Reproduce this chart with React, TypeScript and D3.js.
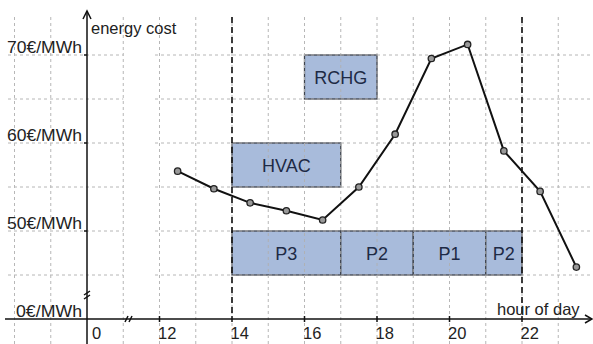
import React from "react";
import * as d3 from "d3";

// ---- data ----
const pointHours = [12.5, 13.5, 14.5, 15.5, 16.5, 17.5, 18.5, 19.5, 20.5, 21.5, 22.5, 23.5];
const pointCosts = [56.8, 54.8, 53.2, 52.3, 51.25, 55.0, 61.0, 69.6, 71.2, 59.1, 54.5, 45.9];

const yTickValues = [40, 50, 60, 70];
const yTickLabels = ["0€/MWh", "50€/MWh", "60€/MWh", "70€/MWh"];
const xTickValues = [10, 12, 14, 16, 18, 20, 22];
const xTickLabels = ["0", "12", "14", "16", "18", "20", "22"];

const boxLabels = ["RCHG", "HVAC", "P3", "P2", "P1", "P2"];
const boxStart = [16, 14, 14, 17, 19, 21];
const boxEnd = [18, 17, 17, 19, 21, 22];
const boxLow = [65, 55, 45, 45, 45, 45];
const boxHigh = [70, 60, 50, 50, 50, 50];

const windowHours = [14, 22];
const gridHours = [8, 9, 11, 12, 13, 14, 15, 16, 17, 18, 19, 20, 21, 22, 23];
const gridValues = [45, 50, 55, 60, 65, 70];

const W = 593;
const H = 344;
const FONT = "'Liberation Sans', Arial, sans-serif";

export default function App() {
  const x = d3.scaleLinear().domain([10, 24]).range([87, 594.5]);
  const y = d3.scaleLinear().domain([40, 75]).range([319, 11]);
  const line = d3
    .line<number>()
    .x((_, i) => x(pointHours[i]))
    .y((d) => y(d));

  const axisX = x(10);
  const axisY = y(40);
  const gapL = x(11);
  const gapR = 155;

  return (
    <svg
      width={W}
      height={H}
      style={{ position: "absolute", left: 0, top: 0, background: "#fff" }}
      fontFamily={FONT}
    >
      {/* boxes */}
      {boxLabels.map((lab, i) => (
        <rect
          key={"b" + i}
          x={x(boxStart[i])}
          y={y(boxHigh[i])}
          width={x(boxEnd[i]) - x(boxStart[i])}
          height={y(boxLow[i]) - y(boxHigh[i])}
          fill="#a8bbdb"
          stroke="#3f444d"
          strokeWidth={1.3}
        />
      ))}

      {/* grid */}
      <g stroke="#b0b0b0" strokeWidth={1} strokeDasharray="3,3" opacity={0.9}>
        {gridHours.map((h) => (
          <line key={"gx" + h} x1={x(h)} x2={x(h)} y1={17} y2={H} />
        ))}
        {gridValues.map((v) => (
          <g key={"gy" + v}>
            <line x1={8} x2={gapL} y1={y(v)} y2={y(v)} />
            <line x1={gapR} x2={W} y1={y(v)} y2={y(v)} />
          </g>
        ))}
      </g>

      {/* box labels */}
      {boxLabels.map((lab, i) => (
        <text
          key={"bl" + i}
          x={(x(boxStart[i]) + x(boxEnd[i])) / 2}
          y={(y(boxHigh[i]) + y(boxLow[i])) / 2 + 6.5}
          textAnchor="middle"
          fontSize={18}
          fill="#1e2a45"
        >
          {lab}
        </text>
      ))}

      {/* window dashed lines */}
      {windowHours.map((h) => (
        <line
          key={"w" + h}
          x1={x(h)}
          x2={x(h)}
          y1={17}
          y2={313}
          stroke="#111"
          strokeWidth={1.6}
          strokeDasharray="6,4"
        />
      ))}

      {/* axes */}
      <g stroke="#111" strokeWidth={1.5} fill="none">
        <line x1={axisX} x2={axisX} y1={11} y2={H} />
        <path d={`M${axisX - 4},${19} L${axisX},${11} L${axisX + 4},${19}`} />
        <line x1={5} x2={592} y1={axisY} y2={axisY} />
        <path d={`M${585},${axisY - 4} L${592},${axisY} L${585},${axisY + 4}`} />
        {/* breaks */}
        <path d={`M${axisX - 3},${295} L${axisX + 3},${291} M${axisX - 3},${299} L${axisX + 3},${295}`} />
        <path d={`M${125},${axisY + 3} L${128},${axisY - 3} M${129},${axisY + 3} L${132},${axisY - 3}`} />
        {xTickValues.slice(1).map((h) => (
          <line key={"xt" + h} x1={x(h)} x2={x(h)} y1={axisY - 3} y2={axisY + 3} />
        ))}
        {yTickValues.slice(1).map((v) => (
          <line key={"yt" + v} x1={axisX - 3} x2={axisX} y1={y(v)} y2={y(v)} />
        ))}
      </g>

      {/* line */}
      <path d={line(pointCosts) || ""} fill="none" stroke="#111" strokeWidth={2} />
      {pointCosts.map((c, i) => (
        <circle
          key={"p" + i}
          cx={x(pointHours[i])}
          cy={y(c)}
          r={3.2}
          fill="#999"
          stroke="#222"
          strokeWidth={1.3}
        />
      ))}

      {/* labels */}
      <g fill="#222" fontSize={16.5}>
        {yTickValues.map((v, i) => (
          <text
            key={"yl" + v}
            x={i === 0 ? 16 : 7}
            y={y(v) - 2}
            textLength={i === 0 ? 66 : 75}
            lengthAdjust="spacingAndGlyphs"
          >
            {yTickLabels[i]}
          </text>
        ))}
        {xTickValues.map((h, i) => (
          <text key={"xl" + h} x={i === 0 ? x(h) + 5 : x(h) - 1.5} y={339}>
            {xTickLabels[i]}
          </text>
        ))}
        <text x={91} y={34}>energy cost</text>
        <text x={497} y={315}>hour of day</text>
      </g>
    </svg>
  );
}
